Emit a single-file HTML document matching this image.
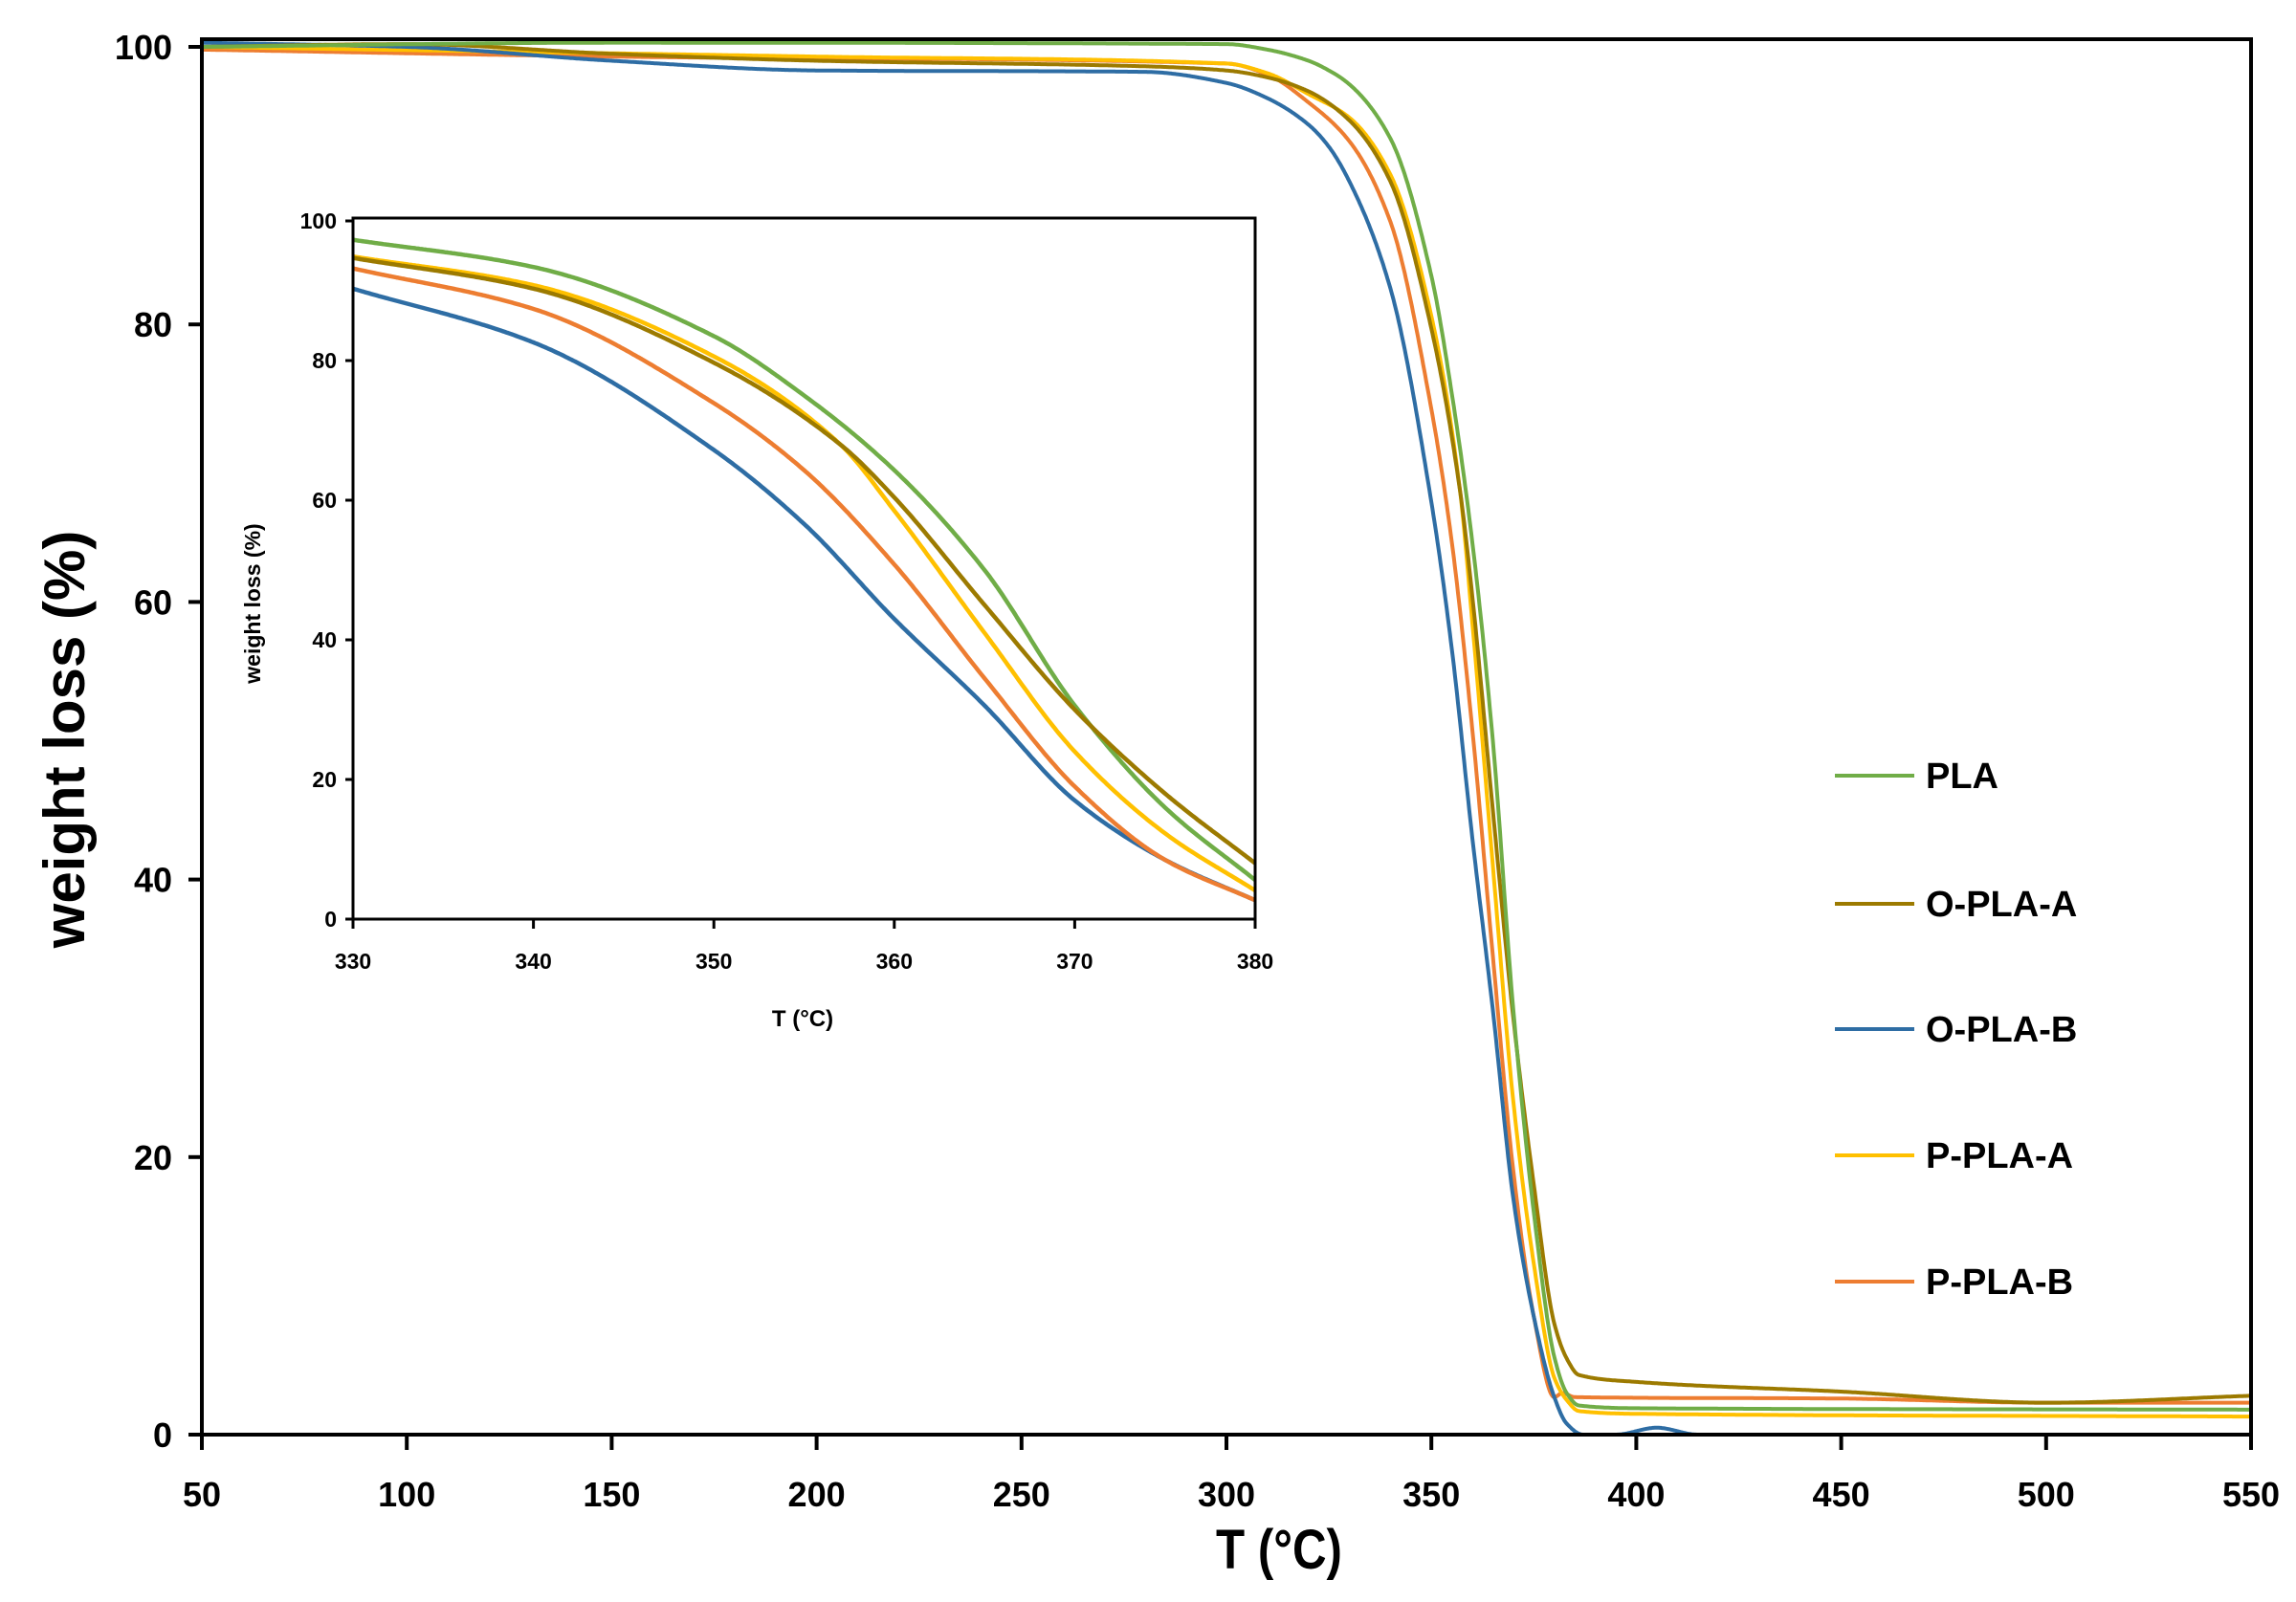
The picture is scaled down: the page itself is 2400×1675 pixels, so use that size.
<!DOCTYPE html>
<html><head><meta charset="utf-8"><style>
html,body{margin:0;padding:0;background:#fff;}
svg{display:block;}
text{font-family:"Liberation Sans",sans-serif;font-weight:bold;fill:#000;}
</style></head><body>
<svg id="s" width="2400" height="1675" viewBox="0 0 2400 1675" xmlns="http://www.w3.org/2000/svg">
<rect width="2400" height="1675" fill="#fff"/>
<g id="main"></g>
<rect x="211" y="41" width="2142" height="1459" fill="none" stroke="#000" stroke-width="4"/>
<g id="mt" stroke="#000" stroke-width="4"></g>
<g id="ml" font-size="36"></g>
<text x="1337" y="1640" font-size="58" text-anchor="middle" transform="translate(1337 0) scale(0.85 1) translate(-1337 0)">T (°C)</text>
<text transform="translate(88 773) rotate(-90)" font-size="60" text-anchor="middle">weight loss (%)</text>
<rect x="369" y="228" width="943" height="733" fill="#fff"/>
<g id="inset"></g>
<rect x="369" y="228" width="943" height="733" fill="none" stroke="#000" stroke-width="3"/>
<g id="it" stroke="#000" stroke-width="3"></g>
<g id="il" font-size="23"></g>
<text x="839" y="1073" font-size="24" text-anchor="middle">T (°C)</text>
<text transform="translate(272 631) rotate(-90)" font-size="23" text-anchor="middle">weight loss (%)</text>
<g id="leg" font-size="38"></g>
</svg>
<script>
var NS="http://www.w3.org/2000/svg";
function el(p,t,a,txt){var e=document.createElementNS(NS,t);for(var k in a)e.setAttribute(k,a[k]);if(txt!=null)e.textContent=txt;p.appendChild(e);return e;}
var col={PLA:"#70ad47",OA:"#9c7a00",OB:"#2e6da4",PA:"#ffc000",PB:"#ed7d31"};
var pre={
PLA:[[50,100],[150,100.3],[300,100.2],[310,99.8],[320,99],[325,98.3]],
OA:[[50,100],[100,100.2],[150,99.5],[200,99],[280,98.6],[300,98.3],[310,97.8],[320,96.8]],
OB:[[50,100.3],[100,100],[150,99],[200,98.3],[280,98.2],[300,97.4],[310,96.3],[320,94.4],[325,92.8]],
PA:[[50,100],[200,99.3],[300,98.8],[310,98.1],[320,96.6]],
PB:[[50,99.8],[150,99.3],[300,98.8],[310,98],[320,96]]};
var mid={
PLA:[[330,97.3],[340,93.4],[350,83.5],[355,75],[360,64.3],[365,50],[370,30.6],[375,16],[380,5.6]],
OA:[[330,94.7],[340,90.3],[350,79.7],[357,68],[360,60.4],[365,45],[370,30],[375,18],[380,8]],
OB:[[330,90.3],[340,82.6],[350,67.2],[355,56.6],[360,43],[365,30.6],[370,17],[375,8.5],[380,2.7]],
PA:[[330,94.9],[340,90.8],[350,80.6],[357,68],[360,58.5],[365,41],[370,24],[375,12.3],[380,4.1]],
PB:[[330,93.2],[340,87.4],[350,73.9],[355,64.3],[360,50.8],[365,34.5],[370,19],[375,8.5],[380,2.7]]};
var post={
PLA:[[383,3],[386,2.1],[400,1.9],[550,1.8]],
OA:[[383,5.5],[386,4.3],[400,3.8],[450,3.1],[500,2.3],[550,2.8]],
OB:[[383,0.8],[387,0],[395,0],[405,0.5],[415,0],[550,0]],
PA:[[383,2.5],[386,1.7],[400,1.5],[550,1.3]],
PB:[[382,3],[385,2.7],[450,2.6],[500,2.3],[550,2.3]]};
function mono(pts){
 var n=pts.length,x=pts.map(function(p){return p[0];}),y=pts.map(function(p){return p[1];});
 var d=[],m=[];
 for(var i=0;i<n-1;i++)d.push((y[i+1]-y[i])/(x[i+1]-x[i]));
 m[0]=d[0];m[n-1]=d[n-2];
 for(var i=1;i<n-1;i++){if(d[i-1]*d[i]<=0)m[i]=0;else{var w1=2*(x[i+1]-x[i])+(x[i]-x[i-1]),w2=(x[i+1]-x[i])+2*(x[i]-x[i-1]);m[i]=(w1+w2)/(w1/d[i-1]+w2/d[i]);}}
 return function(t){
  var i=0;while(i<n-2&&t>x[i+1])i++;
  var h=x[i+1]-x[i],s=(t-x[i])/h,s2=s*s,s3=s2*s;
  return (2*s3-3*s2+1)*y[i]+(s3-2*s2+s)*h*m[i]+(-2*s3+3*s2)*y[i+1]+(s3-s2)*h*m[i+1];};
}
function path(pts,X,Y,a,b,st){
 var F=mono(pts),d="";
 for(var t=a;t<=b+1e-9;t+=st){d+=(d?"L":"M")+X(t).toFixed(1)+","+Y(F(t)).toFixed(1);}
 return d;}
var MX=function(t){return 211+(t-50)*4.284;},MY=function(v){return 1500-v*14.51;};
var IX=function(t){return 369+(t-330)*943/50;},IY=function(v){return 961-v*7.30;};
var order=["PB","PA","OB","OA","PLA"];
var g=document.getElementById("main"),gi=document.getElementById("inset");
order.forEach(function(k){
 var all=pre[k].concat(mid[k]).concat(post[k]);
 el(g,"path",{d:path(all,MX,MY,50,550,0.25),fill:"none",stroke:col[k],"stroke-width":4,"stroke-linejoin":"round"});
});
["OB","PB","PA","PLA","OA"].forEach(function(k){
 el(gi,"path",{d:path(mid[k],IX,IY,330,380,0.1),fill:"none",stroke:col[k],"stroke-width":4.5,"stroke-linejoin":"round"});
});
var mt=document.getElementById("mt"),ml=document.getElementById("ml");
for(var v=0;v<=100;v+=20){var y=MY(v);el(mt,"line",{x1:197,y1:y,x2:211,y2:y});
 el(ml,"text",{x:180,y:y+13,"text-anchor":"end"},String(v));}
for(var t=50;t<=550;t+=50){var x=MX(t);el(mt,"line",{x1:x,y1:1500,x2:x,y2:1516});
 el(ml,"text",{x:x,y:1575,"text-anchor":"middle"},String(t));}
var it=document.getElementById("it"),il=document.getElementById("il");
for(var v=0;v<=100;v+=20){var y=IY(v);el(it,"line",{x1:361,y1:y,x2:369,y2:y});
 el(il,"text",{x:352,y:y+8,"text-anchor":"end"},String(v));}
for(var t=330;t<=380;t+=10){var x=IX(t);el(it,"line",{x1:x,y1:961,x2:x,y2:971});
 el(il,"text",{x:x,y:1013,"text-anchor":"middle"},String(t));}
var lg=document.getElementById("leg");
[["PLA","PLA",811],["OA","O-PLA-A",945],["OB","O-PLA-B",1076],["PA","P-PLA-A",1208],["PB","P-PLA-B",1340]].forEach(function(a){
 el(lg,"line",{x1:1918,y1:a[2],x2:2001,y2:a[2],stroke:col[a[0]],"stroke-width":4});
 el(lg,"text",{x:2013,y:a[2]+13},a[1]);});
</script>
</body></html>
